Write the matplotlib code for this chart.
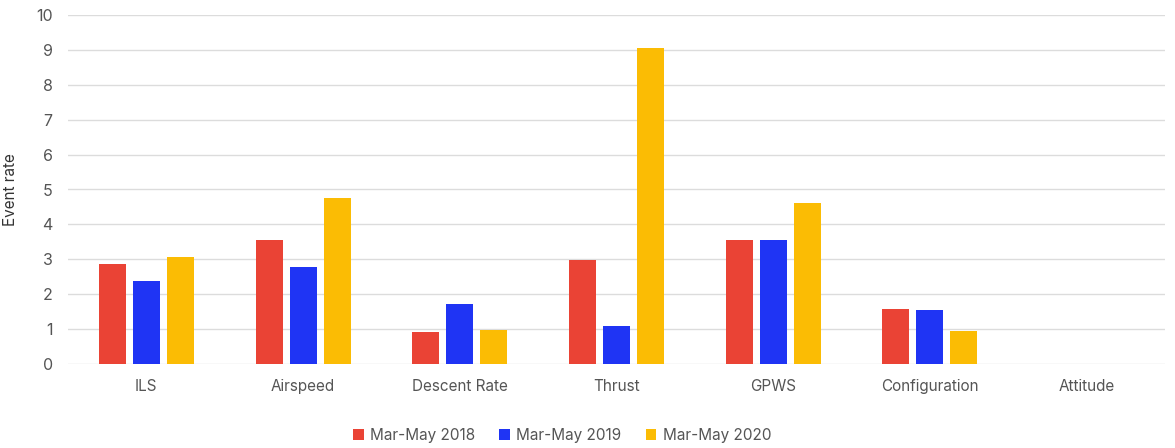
import matplotlib

matplotlib.use("Agg")
import matplotlib.pyplot as plt
import numpy as np

categories = ["ILS", "Airspeed", "Descent Rate", "Thrust", "GPWS", "Configuration", "Attitude"]
series_names = ["Mar-May 2018", "Mar-May 2019", "Mar-May 2020"]
rate_2018 = [2.87, 3.56, 0.92, 2.99, 3.56, 1.57, 0]
rate_2019 = [2.39, 2.79, 1.72, 1.10, 3.56, 1.55, 0]
rate_2020 = [3.06, 4.77, 0.98, 9.05, 4.62, 0.94, 0]
colors = ["#EA4335", "#1F34F4", "#FBBC04"]

TEXT = "#555555"
plt.rcParams["font.family"] = ["Inter", "DejaVu Sans"]

fig = plt.figure(figsize=(11.75, 4.48), dpi=100)
ax = fig.add_axes([68 / 1175, 84 / 448, 1097 / 1175, 349 / 448])

x = np.arange(len(categories))
width = 0.172
step = 0.217
for i, (vals, name, col) in enumerate(zip([rate_2018, rate_2019, rate_2020], series_names, colors)):
    ax.bar(x + (i - 1) * step, vals, width=width, color=col, label=name, zorder=3)

ax.set_xlim(-0.5, len(categories) - 0.5)
ax.set_ylim(0, 10)
ax.set_yticks(range(0, 11))
ax.set_xticks(x)
ax.set_xticklabels(categories)
ax.tick_params(axis="both", length=0, colors=TEXT, labelsize=11)
ax.tick_params(axis="y", labelsize=11.5, pad=11)
ax.tick_params(axis="x", pad=11)
ax.grid(axis="y", color="#dcdcdc", linewidth=1, zorder=0)
for s in ax.spines.values():
    s.set_visible(False)
ax.set_ylabel("Event rate", color="#333333", fontsize=11)
# label sits ~18 px from the left edge in the source
ax.yaxis.set_label_coords((18 - 68) / 1097, 0.5)

fig.legend(loc="center", bbox_to_anchor=(562 / 1175, 1 - 435 / 448), ncol=3, frameon=False,
           fontsize=11, labelcolor=TEXT, handlelength=0.7, handleheight=0.7,
           handletextpad=0.4, columnspacing=1.6)

fig.savefig("out.png", dpi=100)
